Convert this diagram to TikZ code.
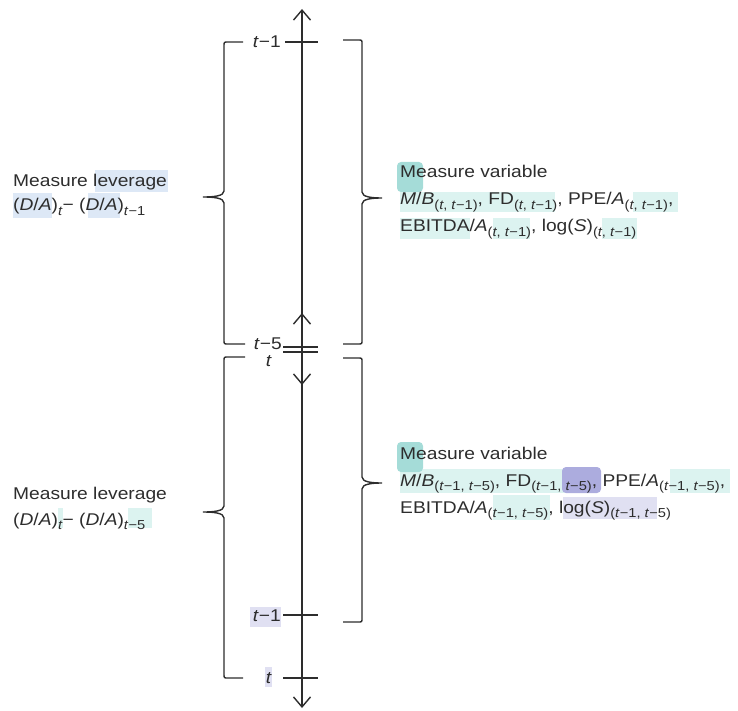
\documentclass[tikz,border=0pt]{standalone}
\usepackage{fontspec}
\setmainfont{Liberation Sans}[FakeStretch=1.13]
\usetikzlibrary{arrows.meta}
\definecolor{hteal}{RGB}{220,243,240}
\definecolor{hblue}{RGB}{221,232,246}
\definecolor{hlav}{RGB}{224,224,242}
\definecolor{mteal}{RGB}{165,220,216}
\definecolor{mlav}{RGB}{172,172,222}
\definecolor{ink}{RGB}{45,45,45}
\newcommand\ti{\textit{t}}
\newcommand\sbs[1]{\raisebox{-4.5pt}{\fontsize{13}{13}\selectfont #1}}
\begin{document}
\begin{tikzpicture}[x=1pt,y=-1pt,
  ln/.style={line width=1.4pt,draw=ink},
  ax/.style={ln,{Straight Barb[length=10pt,width=17pt]}-{Straight Barb[length=10pt,width=17pt]}},
  lbl/.style={font=\fontsize{17}{20}\selectfont,inner sep=0pt,text=ink}]
\useasboundingbox (0,0) rectangle (738,711);
% highlights
\fill[hblue] (95,170) rectangle (168,192);
\fill[hblue] (13,193) rectangle (52,218);
\fill[hblue] (88,193) rectangle (120,218);
\fill[hteal] (400,192) rectangle (555,212);
\fill[hteal] (633,192) rectangle (678,212);
\fill[hteal] (400,218) rectangle (470,239);
\fill[hteal] (493,218) rectangle (530,239);
\fill[hteal] (602,218) rectangle (637,239);
\fill[mteal,rounded corners=4pt] (397,162) rectangle (423,192);
\fill[hteal] (58,508) rectangle (63,528);
\fill[hteal] (128,508) rectangle (152,528);
\fill[hteal] (400,469) rectangle (570,493);
\fill[hteal] (670,469) rectangle (730,493);
\fill[hteal] (493,495) rectangle (550,520);
\fill[hlav] (563,497) rectangle (657,519);
\fill[mteal,rounded corners=4pt] (397,442) rectangle (423,472);
\fill[mlav,rounded corners=4pt] (562,467) rectangle (601,493);
\fill[hlav] (250,607) rectangle (281,627);
\fill[hlav] (265,667) rectangle (272,687);
% axes
\coordinate (a1top) at (302,9);
\coordinate (a1bot) at (302,385);
\coordinate (a2top) at (302,313);
\coordinate (a2bot) at (302,708);
\draw[ax] (a1bot) -- (a1top);
\draw[ax] (a2top) -- (a2bot);
% ticks
\coordinate (k1a) at (285,42);  \coordinate (k1b) at (318,42);
\coordinate (k2a) at (283,347); \coordinate (k2b) at (318,347);
\coordinate (k3a) at (283,352); \coordinate (k3b) at (318,352);
\coordinate (k4a) at (283,615); \coordinate (k4b) at (318,615);
\coordinate (k5a) at (283,678); \coordinate (k5b) at (318,678);
\draw[ln] (k1a) -- (k1b);
\draw[ln] (k2a) -- (k2b);
\draw[ln] (k3a) -- (k3b);
\draw[ln] (k4a) -- (k4b);
\draw[ln] (k5a) -- (k5b);
% tick labels
\node[lbl,anchor=base east] (t1) at (281,48) {\ti−1};
\node[lbl,anchor=base east] (t2) at (282,349) {\ti−5};
\node[lbl,anchor=base east] (t3) at (272,366) {\ti};
\node[lbl,anchor=base east] (t4) at (281,621) {\ti−1};
\node[lbl,anchor=base east] (t5) at (272,683) {\ti};
% brackets
\draw[ln] (243,42) -- (228,42) .. controls (224,42) .. (224,46) -- (224,191)
  .. controls (224,196) and (214,197) .. (203,197)
  .. controls (214,197) and (224,198) .. (224,203) -- (224,340)
  .. controls (224,344) .. (228,344) -- (245,344);
\draw[ln] (245,357) -- (228,357) .. controls (224,357) .. (224,361) -- (224,506)
  .. controls (224,511) and (214,512) .. (203,512)
  .. controls (214,512) and (224,513) .. (224,518) -- (224,674)
  .. controls (224,678) .. (228,678) -- (243,678);
\draw[ln] (343,40) -- (358,40) .. controls (362,40) .. (362,44) -- (362,192)
  .. controls (362,197) and (372,198) .. (382,198)
  .. controls (372,198) and (362,199) .. (362,204) -- (362,340)
  .. controls (362,344) .. (358,344) -- (343,344);
\draw[ln] (343,358) -- (358,358) .. controls (362,358) .. (362,362) -- (362,477)
  .. controls (362,482) and (372,483) .. (382,483)
  .. controls (372,483) and (362,484) .. (362,489) -- (362,618)
  .. controls (362,622) .. (358,622) -- (343,622);
% texts
\node[lbl,anchor=base west] (L1a) at (13,187) {Measure leverage};
\node[lbl,anchor=base west] (L1b) at (13,211) {(\textit{D}/\textit{A})\sbs{\ti}− (\textit{D}/\textit{A})\sbs{\ti−1}};
\node[lbl,anchor=base west] (R1a) at (400,178) {Measure variable};
\node[lbl,anchor=base west] (R1b) at (400,205) {\textit{M}/\textit{B}\sbs{(\ti, \ti−1)}, FD\sbs{(\ti, \ti−1)}, PPE/\textit{A}\sbs{(\ti, \ti−1)},};
\node[lbl,anchor=base west] (R1c) at (400,232) {EBITDA/\textit{A}\sbs{(\ti, \ti−1)}, log(\textit{S})\sbs{(\ti, \ti−1)}};
\node[lbl,anchor=base west] (L2a) at (13,499) {Measure leverage};
\node[lbl,anchor=base west] (L2b) at (13,525) {(\textit{D}/\textit{A})\sbs{\ti}− (\textit{D}/\textit{A})\sbs{\ti−5}};
\node[lbl,anchor=base west] (R2a) at (400,459) {Measure variable};
\node[lbl,anchor=base west] (R2b) at (400,486) {\textit{M}/\textit{B}\sbs{(\ti−1, \ti−5)}, FD\sbs{(\ti−1, \ti−5)}, PPE/\textit{A}\sbs{(\ti−1, \ti−5)},};
\node[lbl,anchor=base west] (R2c) at (400,513) {EBITDA/\textit{A}\sbs{(\ti−1, \ti−5)}, log(\textit{S})\sbs{(\ti−1, \ti−5)}};
\end{tikzpicture}
\end{document}
